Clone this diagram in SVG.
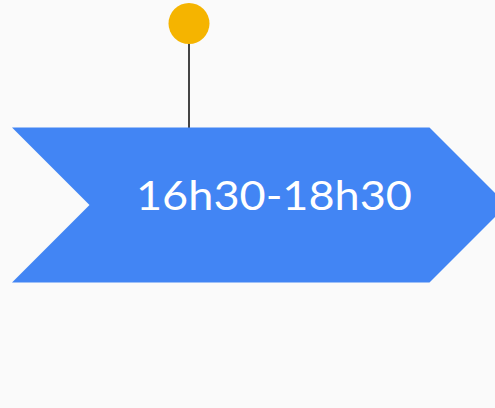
<svg xmlns="http://www.w3.org/2000/svg" width="495" height="408" viewBox="0 0 495 408">
<style>
.label{font-family:Lato,"Open Sans","Liberation Sans",sans-serif;font-weight:400;font-size:40px;fill:#ffffff}
</style>
<rect width="495" height="408" fill="#fafafa"/>
<g id="connectors">
<line x1="189" y1="40" x2="189" y2="128" stroke="#444444" stroke-width="2"/>
</g>
<g id="pin">
<circle cx="189" cy="23.5" r="20.5" fill="#f5b400"/>
</g>
<g id="chevron">
<polygon points="12,127.5 429.5,127.5 507,205 429.5,282.5 12,282.5 89.5,205" fill="#4285f4"/>
<text class="label" x="274" y="210" text-anchor="middle" textLength="276" lengthAdjust="spacingAndGlyphs">16h30-18h30</text>
</g>
</svg>
